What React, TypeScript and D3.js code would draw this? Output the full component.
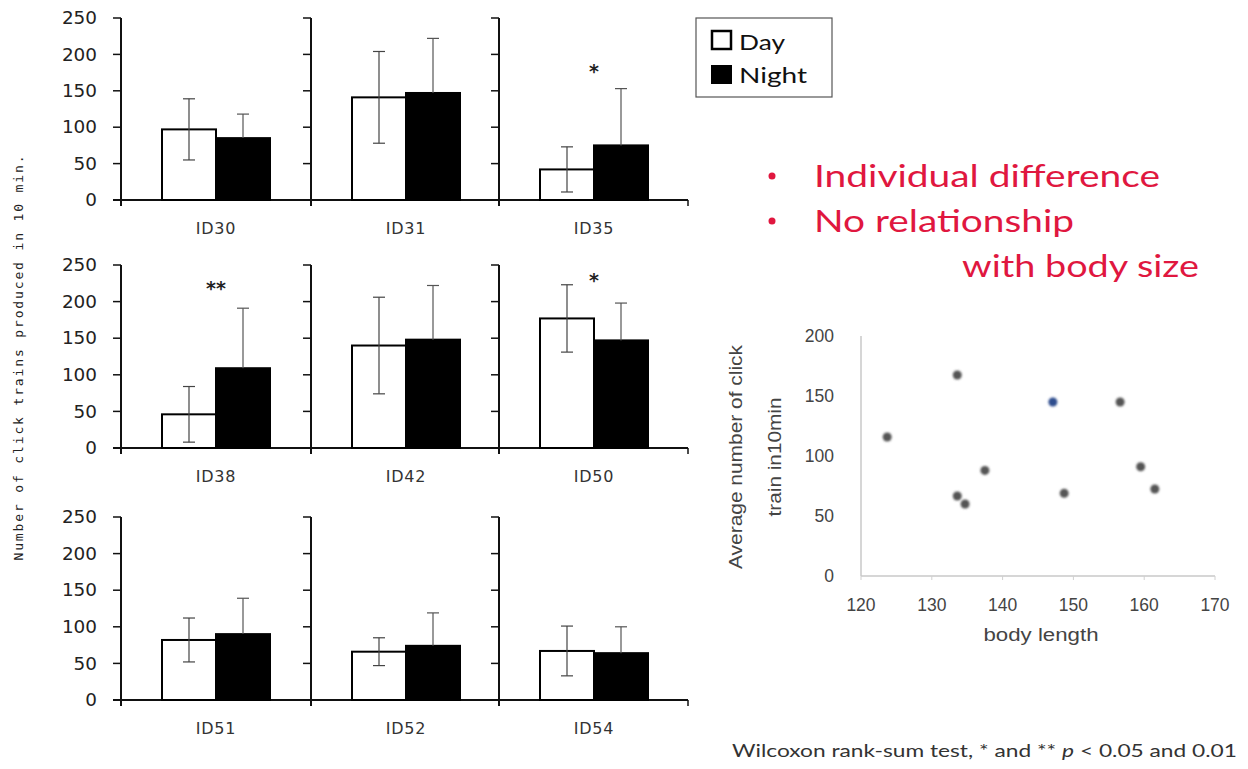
import React from "react";
import * as d3 from "d3";

// ---------- Bar panel data ----------
const ids = ["ID30", "ID31", "ID35", "ID38", "ID42", "ID50", "ID51", "ID52", "ID54"];
const series = ["Day", "Night"];
const dayMean = [97, 141, 42, 46, 140, 177, 82, 66, 67];
const daySD = [42, 63, 31, 38, 66, 46, 30, 19, 34];
const nightMean = [85, 147, 75, 109, 148, 147, 90, 74, 64];
const nightSD = [33, 75, 78, 82, 74, 51, 49, 45, 36];
const signifMark = ["", "", "*", "**", "", "*", "", "", ""];
const signifLevel = [0, 0, 181, 223, 0, 233, 0, 0, 0];
const barTicks = [0, 50, 100, 150, 200, 250];

// ---------- Scatter data ----------
const bodyLength = [123.7, 133.6, 147.1, 156.6, 137.5, 133.6, 134.7, 148.7, 159.5, 161.5];
const avgClicks = [115.8, 167.5, 145, 145, 88, 66.7, 60, 69, 91, 72.5];
const pointHighlight = [false, false, true, false, false, false, false, false, false, false];
const scatterXTicks = [120, 130, 140, 150, 160, 170];
const scatterYTicks = [0, 50, 100, 150, 200];

// ---------- Texts ----------
const yAxisTitle = "Number of click trains produced in 10 min.";
const bullets = ["Individual difference", "No relationship"];
const bulletCont = "with body size";
const scatterYTitle = ["Average number of click", "train in10min"];
const scatterXTitle = "body length";
const footnoteParts = ["Wilcoxon rank-sum test, * and ** ", "p", " < 0.05 and 0.01"];

export default function App() {
  const rowBase = [200, 448, 700];
  const rowTop = [18, 265, 517];
  const panelX = [121, 311, 499];
  const panelEnd = 688;
  const tickFont = "'DejaVu Sans', Verdana, sans-serif";

  const panels = ids.map((id, i) => {
    const row = Math.floor(i / 3);
    const col = i % 3;
    const y = d3.scaleLinear().domain([0, 250]).range([rowBase[row], rowTop[row]]);
    const x0 = panelX[col];
    const x = d3.scaleBand().domain(series).range([x0 + 41, x0 + 149]).padding(0);
    const bw = x.bandwidth();
    const means = [dayMean[i], nightMean[i]];
    const sds = [daySD[i], nightSD[i]];
    const cx = x0 + 95;
    return (
      <g key={id}>
        {series.map((s, k) => (
          <rect
            key={s}
            x={x(s)!}
            y={y(means[k])}
            width={bw}
            height={y(0) - y(means[k])}
            fill={k === 0 ? "#fff" : "#000"}
            stroke="#000"
            strokeWidth={2}
          />
        ))}
        {series.map((s, k) => {
          const ex = x(s)! + bw / 2;
          const top = y(means[k] + sds[k]);
          const bot = y(Math.max(0, means[k] - sds[k]));
          const c = k === 0 ? "#444" : "#555";
          return (
            <g key={"e" + s} stroke={c} strokeWidth={1.2}>
              <line x1={ex} x2={ex} y1={top} y2={k === 0 ? bot : y(means[k])} />
              <line x1={ex - 6} x2={ex + 6} y1={top} y2={top} />
              {k === 0 && <line x1={ex - 6} x2={ex + 6} y1={bot} y2={bot} />}
            </g>
          );
        })}
        {signifMark[i] && (
          <text
            x={cx}
            y={y(signifLevel[i]) + 10}
            textAnchor="middle"
            fontFamily={tickFont}
            fontSize={19}
            fontWeight="bold"
            fill="#222"
          >
            {signifMark[i]}
          </text>
        )}
        {/* value axis */}
        <line x1={x0} x2={x0} y1={y(250)} y2={y(0) + 6} stroke="#111" strokeWidth={2} />
        {barTicks.map((t) => (
          <line key={t} x1={x0 - 8} x2={x0} y1={y(t)} y2={y(t)} stroke="#111" strokeWidth={1.5} />
        ))}
        {col === 0 &&
          barTicks.map((t) => (
            <text
              key={"l" + t}
              x={97}
              y={y(t)}
              dy="0.36em"
              textAnchor="end"
              fontFamily={tickFont}
              fontSize={17}
              textLength={String(t).length * 11.7}
              lengthAdjust="spacingAndGlyphs"
              fill="#222"
            >
              {t}
            </text>
          ))}
        <text
          x={cx}
          y={y(0) + 28}
          dy="0.36em"
          textAnchor="middle"
          fontFamily={tickFont}
          fontSize={16}
          letterSpacing={0.8}
          fill="#333"
        >
          {id}
        </text>
      </g>
    );
  });

  const rowBaselines = rowBase.map((b, r) => (
    <g key={"base" + r}>
      <line x1={113} x2={panelEnd} y1={b} y2={b} stroke="#111" strokeWidth={2.2} />
      <line x1={panelEnd} x2={panelEnd} y1={b} y2={b + 6} stroke="#111" strokeWidth={1.5} />
    </g>
  ));

  // scatter
  const sx = d3.scaleLinear().domain([120, 170]).range([861, 1215]);
  const sy = d3.scaleLinear().domain([0, 200]).range([576, 336]);
  const sFont = "'Liberation Sans', Arial, sans-serif";

  const red = "#e0173f";
  const cal = "Lato, 'Open Sans', sans-serif";

  return (
    <svg
      width={1248}
      height={769}
      style={{ position: "absolute", left: 0, top: 0, background: "#fff" }}
    >
      <rect x={0} y={0} width={1248} height={769} fill="#fff" />
      <defs>
        <filter id="blur1" x="-50%" y="-50%" width="200%" height="200%">
          <feGaussianBlur stdDeviation="0.9" />
        </filter>
      </defs>

      {/* y-axis title for bar panels */}
      <text
        transform="translate(23,358) rotate(-90)"
        textAnchor="middle"
        fontFamily="'DejaVu Sans Mono', monospace"
        fontSize={13}
        textLength={405}
        lengthAdjust="spacing"
        fill="#222"
      >
        {yAxisTitle}
      </text>

      {rowBaselines}
      {panels}

      {/* legend */}
      <rect x={696} y={18} width={136} height={79} fill="#fff" stroke="#555" strokeWidth={1.2} />
      <rect x={712} y={31} width={19} height={18} fill="#fff" stroke="#000" strokeWidth={2.5} />
      <rect x={711} y={65} width={21} height={19} fill="#000" />
      <text x={739} y={50} fontFamily={cal} fontSize={22} textLength={46} lengthAdjust="spacingAndGlyphs" fill="#111">
        {series[0]}
      </text>
      <text x={739} y={83} fontFamily={cal} fontSize={22} textLength={68} lengthAdjust="spacingAndGlyphs" fill="#111">
        {series[1]}
      </text>

      {/* red bullet notes */}
      {bullets.map((b, k) => (
        <g key={b}>
          <circle cx={772} cy={176 + k * 45} r={3.5} fill={red} />
          <text
            x={814}
            y={187 + k * 45}
            fontFamily={cal}
            fontSize={30}
            textLength={k === 0 ? 346 : 260}
            lengthAdjust="spacingAndGlyphs"
            fill={red}
          >
            {b}
          </text>
        </g>
      ))}
      <text x={962} y={277} fontFamily={cal} fontSize={30} textLength={237} lengthAdjust="spacingAndGlyphs" fill={red}>
        {bulletCont}
      </text>

      {/* scatter plot */}
      <line x1={sx(120)} x2={sx(120)} y1={sy(200)} y2={sy(0)} stroke="#c8c8c8" strokeWidth={1.5} />
      <line x1={sx(120)} x2={sx(170)} y1={sy(0)} y2={sy(0)} stroke="#c8c8c8" strokeWidth={1.5} />
      {scatterXTicks.map((t) => (
        <g key={"sx" + t}>
          <line x1={sx(t)} x2={sx(t)} y1={sy(0)} y2={sy(0) + 4} stroke="#d0d0d0" />
          <text x={sx(t)} y={605} dy="0.36em" textAnchor="middle" fontFamily={sFont} fontSize={17.5} fill="#444">
            {t}
          </text>
        </g>
      ))}
      {scatterYTicks.map((t) => (
        <text key={"sy" + t} x={834} y={sy(t)} dy="0.36em" textAnchor="end" fontFamily={sFont} fontSize={17.5} fill="#444">
          {t}
        </text>
      ))}
      {bodyLength.map((bl, k) => (
        <circle
          key={"p" + k}
          cx={sx(bl)}
          cy={sy(avgClicks[k])}
          r={4.5}
          fill={pointHighlight[k] ? "#2d4d8e" : "#555"}
          filter="url(#blur1)"
        />
      ))}
      <text
        transform="translate(742,457) rotate(-90)"
        textAnchor="middle"
        fontFamily={sFont}
        fontSize={18}
        textLength={224}
        lengthAdjust="spacingAndGlyphs"
        fill="#444"
      >
        {scatterYTitle[0]}
      </text>
      <text
        transform="translate(781,457) rotate(-90)"
        textAnchor="middle"
        fontFamily={sFont}
        fontSize={18}
        textLength={119}
        lengthAdjust="spacingAndGlyphs"
        fill="#444"
      >
        {scatterYTitle[1]}
      </text>
      <text x={1041} y={641} textAnchor="middle" fontFamily={sFont} fontSize={18} textLength={115} lengthAdjust="spacingAndGlyphs" fill="#444">
        {scatterXTitle}
      </text>

      {/* footnote */}
      <text x={732} y={757} fontFamily={cal} fontSize={18} textLength={505} lengthAdjust="spacingAndGlyphs" fill="#333">
        {footnoteParts[0]}
        <tspan fontStyle="italic">{footnoteParts[1]}</tspan>
        {footnoteParts[2]}
      </text>
    </svg>
  );
}
